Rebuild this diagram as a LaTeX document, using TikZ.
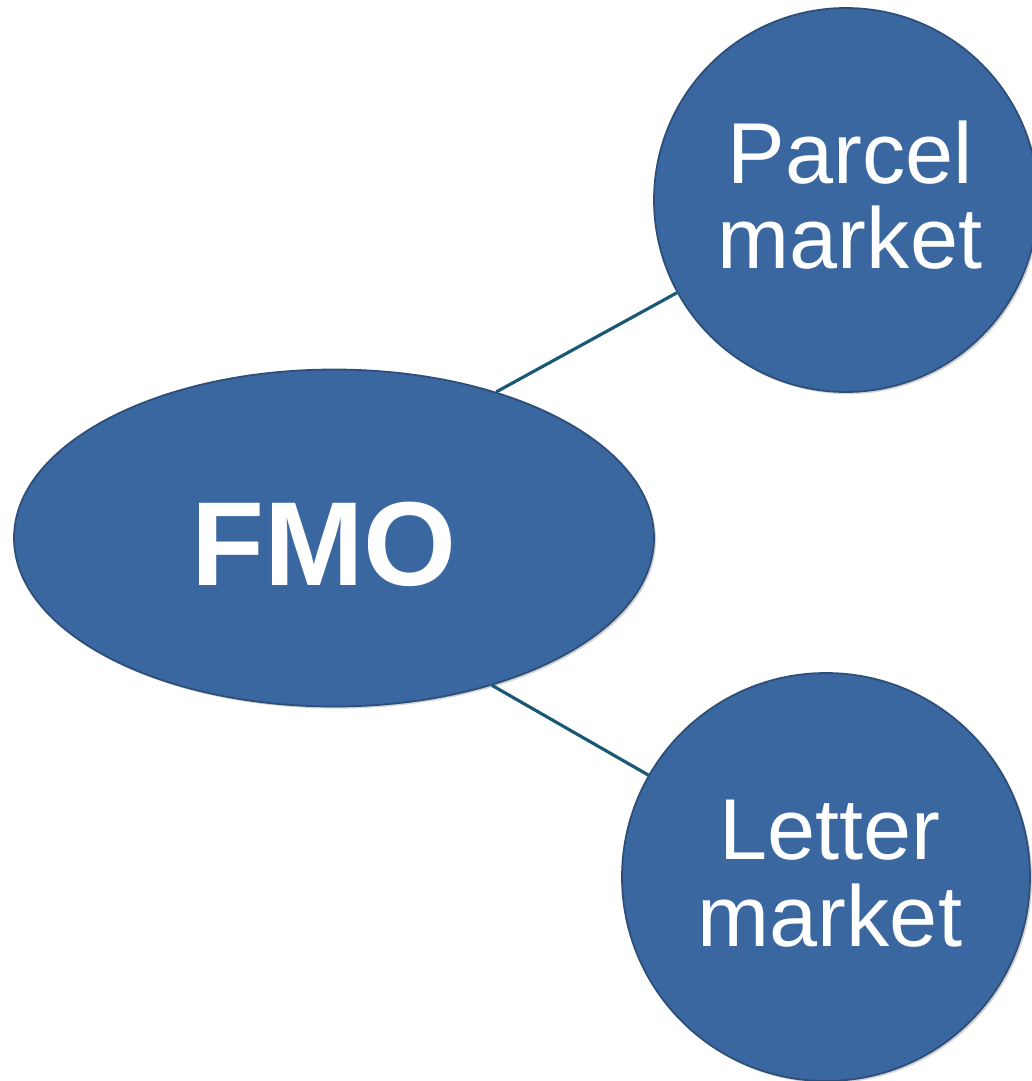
\documentclass[tikz,border=0pt]{standalone}
\usepackage{fontspec}
\setmainfont{Liberation Sans}
\usetikzlibrary{shapes.geometric,shadows}

\definecolor{marketblue}{HTML}{3A679F}
\definecolor{marketedge}{HTML}{2C4E78}
\definecolor{linkteal}{HTML}{1A5876}

\tikzset{
    bubble/.style={fill=marketblue, draw=marketedge, line width=0.5pt, text=white,
        inner sep=0pt, align=center,
        drop shadow={shadow xshift=0.6pt, shadow yshift=-0.6pt, opacity=0.35}},
    link/.style={draw=linkteal, line width=0.9pt}
}

\begin{document}
\begin{tikzpicture}[x=0.1mm, y=-0.1mm]
            \useasboundingbox (0, 0) rectangle (1031, 1081);

            \node[bubble, ellipse, minimum width=6.4cm, minimum height=3.37cm] (fmo) at (334, 538) {};
            \node[text=white, font=\fontsize{34}{36}\selectfont\bfseries] (fmolab) at (324, 544) {FMO};

            \node[bubble, circle, minimum size=3.84cm] (parcel) at (846, 200) {};
            \node[text=white, align=center, font=\fontsize{24.6}{24.4}\selectfont] (parcellab) at (850, 195) {Parcel\\market};

            \node[bubble, circle, minimum size=4.08cm] (letter) at (826, 877) {};
            \node[text=white, align=center, font=\fontsize{24.6}{24.7}\selectfont] (letterlab) at (830, 874) {Letter\\market};

            \draw[link] (fmo.42.6) to (parcel);
            \draw[link] (fmo.-43.5) to (letter);
        \end{tikzpicture}
\end{document}
